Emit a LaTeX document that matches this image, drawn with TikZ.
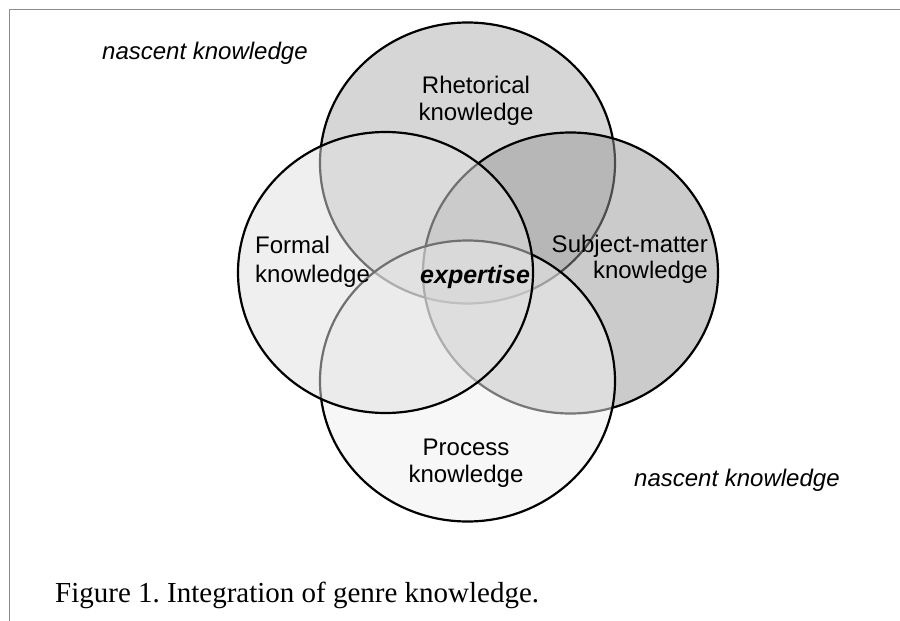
\documentclass[tikz,border=0pt]{standalone}
\usepackage{fontspec}
\setmainfont{Liberation Serif}
\newfontfamily\labelfont{Liberation Sans}
\frenchspacing
\begin{document}
\begin{tikzpicture}[x=1pt,y=-1pt,
  lbl/.style={inner sep=0pt, font=\labelfont\fontsize{24}{28}\selectfont},
  nascent/.style={lbl, font=\labelfont\itshape\fontsize{24}{28}\selectfont},
  circ/.style={draw=black, line width=2.2pt},
  frameline/.style={draw={rgb,255:red,140;green,140;blue,140}, line width=1.6pt}
]
\useasboundingbox (0,0) rectangle (900,621);
\fill[white] (0,0) rectangle (900,621);
% frame
\coordinate (fbl) at (9.5,621);
\coordinate (ftl) at (9.5,9.5);
\coordinate (ftr) at (900,9.5);
\draw[frameline] (fbl) -- (ftl) -- (ftr);
% circle centres
\coordinate (ctop) at (467.5,163);
\coordinate (cright) at (570.5,273);
\coordinate (cbottom) at (467.5,381);
\coordinate (cleft) at (385.5,272.5);
% circles in drawing order
\path[circ, fill={rgb,255:red,214;green,214;blue,214}] (ctop) ellipse [x radius=147.5pt, y radius=140.5pt];
\path[circ, fill={rgb,255:red,153;green,153;blue,153}, fill opacity=0.5] (cright) ellipse [x radius=147.5pt, y radius=140.5pt];
\path[circ, fill={rgb,255:red,240;green,240;blue,240}, fill opacity=0.5] (cbottom) ellipse [x radius=147.5pt, y radius=140.5pt];
\path[circ, fill={rgb,255:red,224;green,224;blue,224}, fill opacity=0.5] (cleft) ellipse [x radius=147.5pt, y radius=140.5pt];
% labels
\node[nascent, anchor=base west] (n1) at (102,59) {nascent knowledge};
\node[nascent, anchor=base west] (n2) at (634,486) {nascent knowledge};
\node[lbl, anchor=base] (rh1) at (476,93) {Rhetorical};
\node[lbl, anchor=base] (rh2) at (476,120) {knowledge};
\node[lbl, anchor=base west] (fo1) at (255,253) {Formal};
\node[lbl, anchor=base west] (fo2) at (255,282) {knowledge};
\node[lbl, anchor=base east] (su1) at (708,252) {Subject-matter};
\node[lbl, anchor=base east] (su2) at (708,278) {knowledge};
\node[lbl, anchor=base] (pr1) at (466,455) {Process};
\node[lbl, anchor=base] (pr2) at (466,482) {knowledge};
\node[inner sep=0pt, anchor=base west, font=\labelfont\bfseries\itshape\fontsize{25}{29}\selectfont] (ex) at (420,283) {expertise};
% caption
\node[inner sep=0pt, anchor=base west, font=\fontsize{29}{34}\selectfont] (cap) at (55,602) {Figure 1. Integration of genre knowledge.};
\end{tikzpicture}
\end{document}
